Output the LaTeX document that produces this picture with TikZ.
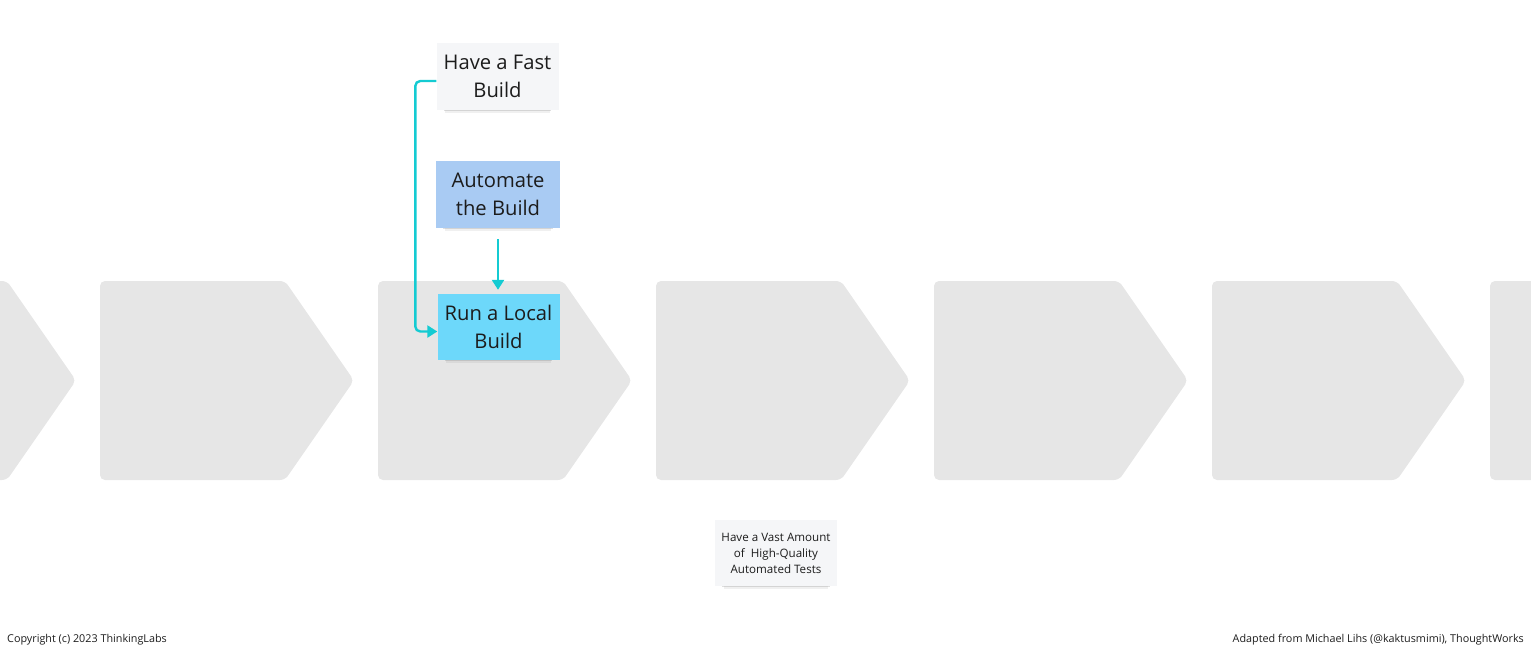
\documentclass[tikz,border=0pt]{standalone}
\usepackage{fontspec}
\setmainfont{Open Sans}
\usepackage{tikz}
\usetikzlibrary{arrows.meta,shadows}
\definecolor{chevgray}{HTML}{E6E6E6}
\definecolor{notewhite}{HTML}{F5F6F8}
\definecolor{noteblue}{HTML}{A9CBF3}
\definecolor{notecyan}{HTML}{6DD8FA}
\definecolor{linkcyan}{HTML}{14CBD2}
\definecolor{inkdark}{HTML}{1C1C1C}

\begin{document}
\begin{tikzpicture}[x=1pt, y=-1pt,
	chev/.style={fill=chevgray, rounded corners=5pt},
	note/.style={shape=rectangle, inner sep=0pt, align=center, text=inkdark,
		drop shadow={shadow xshift=0pt, shadow yshift=-9pt, shadow scale=0.86, opacity=0.12},
		drop shadow={shadow xshift=0pt, shadow yshift=-6pt, shadow scale=0.88, opacity=0.25}},
	bignote/.style={note, minimum width=122pt, minimum height=67pt, font=\fontsize{20.2}{28}\selectfont},
	smallnote/.style={note, minimum width=122pt, minimum height=66pt, font=\fontsize{11.6}{16}\selectfont},
	link/.style={draw=linkcyan, line width=2.4pt, -{Triangle[width=12pt,length=10pt]}},
	foot/.style={font=\fontsize{10.8}{12}\selectfont, text=inkdark, inner sep=0pt}]
	\useasboundingbox (0,0) rectangle (1531,653);
	\clip (0,0) rectangle (1531,653);
	% Paths, nodes and wires:
	\foreach \x in {-178,100,378,656,934,1212,1490}{
		\fill[chev] (\x,281) -- (\x+185,281) -- (\x+254,380.5) -- (\x+185,480) -- (\x,480) -- cycle;
	}
	\node[bignote, fill=notewhite](fast) at (497.5,76.5){Have a Fast\\Build};
	\node[bignote, fill=noteblue, minimum width=124pt](auto) at (498,194.5){Automate\\the Build};
	\node[bignote, fill=notecyan, minimum height=66pt](local) at (498.5,327){Run a Local\\Build};
	\node[smallnote, fill=notewhite](vast) at (776,553){Have a Vast Amount\\of~ High-Quality\\Automated Tests};
	\draw[link, rounded corners=5pt] ([yshift=-4.5pt]fast.west) -- ++(-21,0) |- ([yshift=-4.5pt]local.west);
	\draw[link, shorten <=11pt, shorten >=4pt] (auto.south) -- (auto.south |- local.north);
	\node[foot, anchor=base west](copy) at (7,642){Copyright (c) 2023 ThinkingLabs};
	\node[foot, anchor=base east](credit) at (1524,642){Adapted from Michael Lihs (@kaktusmimi), ThoughtWorks};
\end{tikzpicture}
\end{document}
